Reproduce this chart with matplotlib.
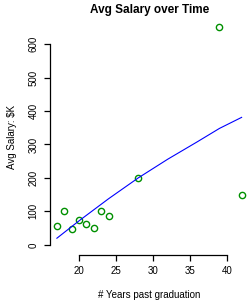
import matplotlib
matplotlib.use("Agg")
import matplotlib.pyplot as plt

# years past graduation vs avg salary ($K)
years = [17, 18, 19, 20, 21, 22, 23, 24, 28, 39, 42]
salary = [55, 100, 48, 73, 62, 50, 100, 87, 200, 650, 150]

# fitted curve
fit_x = [17, 20, 24, 28, 32, 36, 39, 42]
fit_y = [20, 72, 138, 200, 256, 308, 348, 381]

xticks = [20, 25, 30, 35, 40]
yticks = [0, 100, 200, 300, 400, 500, 600]

plt.rcParams['font.family'] = ['Liberation Sans', 'DejaVu Sans']

fig = plt.figure(figsize=(2.5, 3.01), dpi=100)
ax = fig.add_axes([0.198, 0.153, 0.798, 0.784])

ax.plot(years, salary, 'o', mfc='none', mec='#009000', ms=4.5, mew=1.0)
ax.plot(fit_x, fit_y, color='blue', lw=0.8)

ax.set_xlim(16, 43)
ax.set_ylim(-30, 675)

for s in ['top', 'right']:
    ax.spines[s].set_visible(False)
ax.spines['left'].set_bounds(0, 600)
ax.spines['bottom'].set_bounds(20, 40)
ax.spines['left'].set_linewidth(0.9)
ax.spines['bottom'].set_linewidth(0.9)

ax.set_xticks(xticks)
ax.set_yticks(yticks)
ax.tick_params(length=4, width=0.9, labelsize=7, pad=4)
for lab in ax.get_yticklabels():
    lab.set_rotation(90)
    lab.set_va('center')

fig.text(0.598, 1 - 10 / 301, "Avg Salary over Time", fontsize=8.5,
         fontweight='bold', ha='center', va='center')
fig.text(0.598, 1 - 295 / 301, "# Years past graduation", fontsize=7,
         ha='center', va='center')
ax.set_ylabel("Avg Salary: $K", fontsize=7, labelpad=8)

fig.savefig("out.png", dpi=100)
